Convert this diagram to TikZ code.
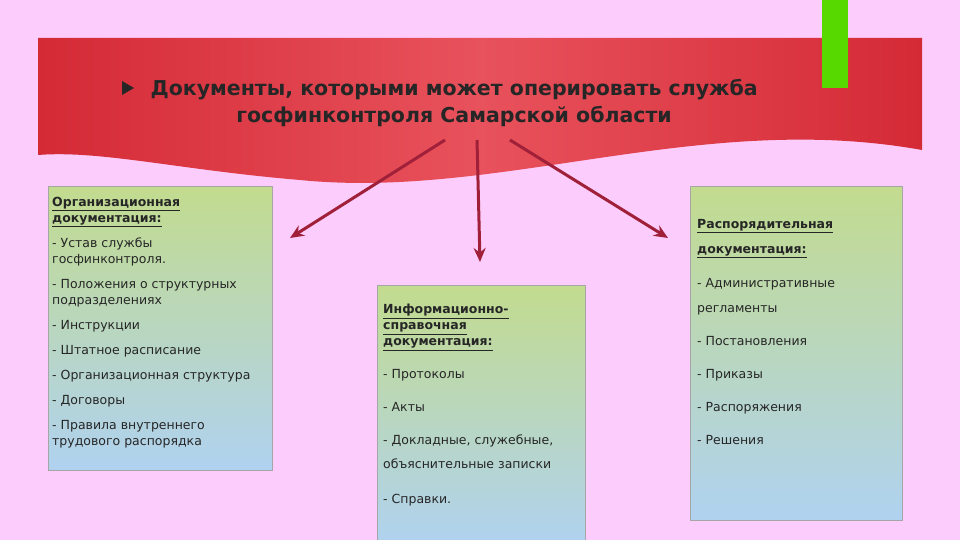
\documentclass[tikz,border=0pt]{standalone}
\usepackage{fontspec}
\setmainfont{DejaVu Sans}
\usetikzlibrary{arrows.meta}
\definecolor{bg}{HTML}{FCCDFC}
\definecolor{bgreen}{HTML}{C2DB8E}
\definecolor{bblue}{HTML}{B0D2F0}
\definecolor{bannerR}{HTML}{D42A36}
\definecolor{bannerL}{HTML}{E8525C}
\definecolor{arrowc}{HTML}{A0203A}
\tikzset{
  box/.style={draw=gray!70, top color=bgreen, bottom color=bblue},
  txt/.style={anchor=north west, align=left, font=\fontsize{12.5}{16}\selectfont, text=black!85, inner sep=0pt},
  arr/.style={-{Stealth[length=14pt,width=12pt]}, line width=3pt, draw=arrowc}
}
\begin{document}
\begin{tikzpicture}[x=1pt,y=-1pt]
\fill[bg] (0,0) rectangle (960,540);
\useasboundingbox (0,0) rectangle (960,540);
\shade[left color=bannerR, right color=bannerR, middle color=bannerL]
  (38,38) -- (922,38) -- (922,150) .. controls (700,110) and (500,200) .. (300,180)
  .. controls (180,170) and (100,150) .. (38,155) -- cycle;
\fill[green!60!yellow!85!black] (822,0) rectangle (848,88);
\fill[black!85] (122,81) -- (134,88) -- (122,95) -- cycle;
\node[anchor=west, font=\fontsize{20.5}{27}\selectfont\bfseries, align=center, text=black!85] (title) at (147,103)
  {Документы, которыми может оперировать служба\\госфинконтроля Самарской области};
\coordinate (s1) at (445,140); \coordinate (s2) at (477,140); \coordinate (s3) at (510,140);
\node[box, minimum width=224pt, minimum height=284pt, anchor=north west] (L) at (48,186) {};
\node[box, minimum width=208pt, minimum height=260pt, anchor=north west] (M) at (377,285) {};
\node[box, minimum width=212pt, minimum height=334pt, anchor=north west] (R) at (690,186) {};
\coordinate (e1) at (290,238); \coordinate (e2) at (480,262); \coordinate (e3) at (668,238);
\draw[arr] (s1) -- (e1); \draw[arr] (s2) -- (e2); \draw[arr] (s3) -- (e3);
\node[txt] (lt) at (52,197) {\underline{\textbf{Организационная}}\\\underline{\textbf{документация:}}\\[9pt]
- Устав службы\\госфинконтроля.\\[9pt]
- Положения о структурных\\подразделениях\\[9pt]
- Инструкции\\[9pt]
- Штатное расписание\\[9pt]
- Организационная структура\\[9pt]
- Договоры\\[9pt]
- Правила внутреннего\\трудового распорядка};
\node[txt] (mt) at (383,304) {\underline{\textbf{Информационно-}}\\\underline{\textbf{справочная}}\\\underline{\textbf{документация:}}\\[17pt]
- Протоколы\\[17pt]
- Акты\\[17pt]
- Докладные, служебные,\\[8pt]
объяснительные записки\\[19pt]
- Справки.};
\node[txt] (rt) at (697,219) {\underline{\textbf{Распорядительная}}\\[9pt]
\underline{\textbf{документация:}}\\[18pt]
- Административные\\[9pt]
регламенты\\[17pt]
- Постановления\\[17pt]
- Приказы\\[17pt]
- Распоряжения\\[17pt]
- Решения};
\end{tikzpicture}
\end{document}
